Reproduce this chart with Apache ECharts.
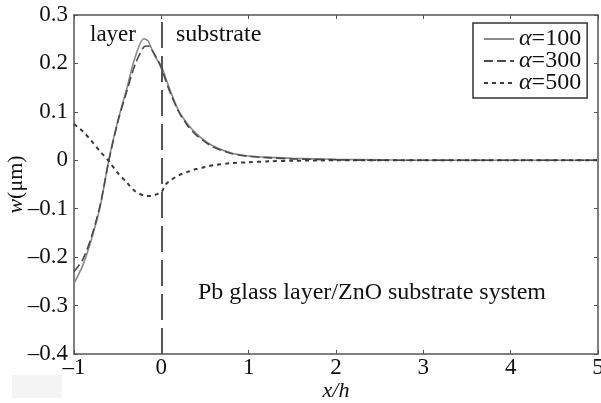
<!DOCTYPE html>
<html lang="en">
<head>
  <meta charset="UTF-8">
  <title>w vs x/h</title>
  <script src="https://cdn.jsdelivr.net/npm/echarts@6/dist/echarts.min.js"></script>
  <style>
    html, body { margin: 0; padding: 0; background: #fff; }
    #chart { width: 601px; height: 403px; }
  </style>
</head>
<body>
  <div id="chart"></div>
  <script>
    // x/h sample positions and deflection w (um)
    let xs = [-1, -0.9, -0.8, -0.7, -0.6, -0.5, -0.4, -0.3, -0.2, -0.15, -0.1, -0.05, 0, 0.05, 0.1, 0.2, 0.3, 0.4, 0.5, 0.6, 0.8, 1.0, 1.25, 1.5, 2, 2.5, 3, 4, 5];
    let w100 = [-0.254, -0.217, -0.163, -0.095, 0.002, 0.08, 0.145, 0.213, 0.251, 0.246, 0.225, 0.208, 0.195, 0.17, 0.145, 0.102, 0.075, 0.055, 0.04, 0.029, 0.015, 0.009, 0.006, 0.004, 0.002, 0.001, 0, 0, 0];
    let w300 = [-0.23, -0.205, -0.158, -0.092, 0.0, 0.078, 0.14, 0.198, 0.234, 0.236, 0.226, 0.21, 0.19, 0.165, 0.14, 0.1, 0.072, 0.052, 0.038, 0.027, 0.014, 0.008, 0.005, 0.003, 0.001, 0, 0, 0, 0];
    let w500 = [0.075, 0.06, 0.04, 0.018, -0.002, -0.026, -0.045, -0.064, -0.073, -0.074, -0.073, -0.07, -0.066, -0.05, -0.042, -0.031, -0.024, -0.018, -0.014, -0.01, -0.006, -0.004, -0.002, -0.001, 0, 0, 0, 0, 0];
    let names = ['α=100', 'α=300', 'α=500'];
    let interfaceX = 0;

    let serif = "'Liberation Serif', 'Times New Roman', serif";
    let axisColor = '#555';

    function fmt(v) {
      let s = String(Math.round(Math.abs(v) * 10) / 10);
      return v < 0 ? '\u2013' + s : s;
    }

    function pairs(ys) {
      return xs.map((x, i) => [x, ys[i]]);
    }

    let chart = echarts.init(document.getElementById('chart'));
    let option = {
      animation: false,
      grid: { left: 74, right: 3, top: 15, bottom: 49, containLabel: false, outerBoundsMode: 'none' },
      legend: {
        orient: 'vertical',
        left: 473,
        top: 23,
        padding: [4, 6, 3, 10],
        itemGap: -2,
        itemWidth: 30,
        itemHeight: 12,
        borderColor: '#333',
        borderWidth: 1.5,
        backgroundColor: '#fff',
        itemStyle: { opacity: 0 },
        data: names,
        formatter: n => '{a|α}' + n.slice(1),
        textStyle: {
          fontFamily: serif,
          fontSize: 24,
          lineHeight: 22,
          color: '#111',
          rich: { a: { fontFamily: serif, fontSize: 24, lineHeight: 22, fontStyle: 'italic', color: '#111' } }
        }
      },
      xAxis: [{
        type: 'value', min: -1, max: 5, interval: 1,
        name: 'x/h', nameLocation: 'middle', nameGap: 26, nameMoveOverlap: false,
        nameTextStyle: { fontFamily: serif, fontSize: 22, fontStyle: 'italic', color: '#111' },
        axisLine: { onZero: false, lineStyle: { color: axisColor, width: 1.5 } },
        axisTick: { inside: true, length: 4, lineStyle: { color: axisColor } },
        axisLabel: { fontFamily: serif, fontSize: 23, color: '#111', margin: 2, formatter: fmt },
        splitLine: { show: false }
      }, {
        type: 'value', min: -1, max: 5, interval: 1, position: 'top',
        axisLine: { show: true, onZero: false, lineStyle: { color: axisColor, width: 1.5 } },
        axisTick: { inside: true, length: 4, lineStyle: { color: axisColor } },
        axisLabel: { show: false },
        splitLine: { show: false }
      }],
      yAxis: [{
        type: 'value', min: -0.4, max: 0.3, interval: 0.1,
        name: '{i|w}(μm)', nameLocation: 'middle', nameGap: 47, nameMoveOverlap: false,
        nameTextStyle: {
          fontFamily: serif, fontSize: 22, color: '#111',
          rich: { i: { fontFamily: serif, fontSize: 22, fontStyle: 'italic', color: '#111' } }
        },
        axisLine: { show: true, onZero: false, lineStyle: { color: axisColor, width: 1.5 } },
        axisTick: { show: true, inside: true, length: 4, lineStyle: { color: axisColor } },
        axisLabel: { fontFamily: serif, fontSize: 23, color: '#111', margin: 6, formatter: fmt },
        splitLine: { show: false }
      }, {
        type: 'value', min: -0.4, max: 0.3, interval: 0.1, position: 'right',
        axisLine: { show: true, onZero: false, lineStyle: { color: axisColor, width: 1.5 } },
        axisTick: { show: true, inside: true, length: 4, lineStyle: { color: axisColor } },
        axisLabel: { show: false },
        splitLine: { show: false }
      }],
      graphic: [
        { type: 'text', left: 90, top: 23, style: { text: 'layer', font: '23px ' + serif, fill: '#111' } },
        { type: 'text', left: 176, top: 23, style: { text: 'substrate', font: '24px ' + serif, fill: '#111' } },
        { type: 'text', left: 198, top: 281, style: { text: 'Pb glass layer/ZnO substrate system', font: '24px ' + serif, fill: '#111' } },
        { type: 'rect', left: 12, top: 375, shape: { width: 50, height: 23 }, style: { fill: '#f4f4f4' } }
      ],
      series: [
        {
          type: 'line', name: names[0], data: pairs(w100), symbol: 'none', smooth: 0.3,
          itemStyle: { color: '#8a8a8a' },
          lineStyle: { color: '#8a8a8a', width: 1.6, type: 'solid' },
          markLine: {
            silent: true, symbol: 'none', label: { show: false },
            lineStyle: { color: '#555', width: 2, type: [26, 8] },
            data: [{ xAxis: interfaceX }]
          }
        },
        {
          type: 'line', name: names[1], data: pairs(w300), symbol: 'none', smooth: 0.3,
          itemStyle: { color: '#4a4a4a' },
          lineStyle: { color: '#4a4a4a', width: 1.6, type: [9, 4] }
        },
        {
          type: 'line', name: names[2], data: pairs(w500), symbol: 'none', smooth: 0.3,
          itemStyle: { color: '#3a3a3a' },
          lineStyle: { color: '#3a3a3a', width: 2, type: [4, 4] }
        }
      ]
    };
    chart.setOption(option);
  </script>
</body>
</html>
